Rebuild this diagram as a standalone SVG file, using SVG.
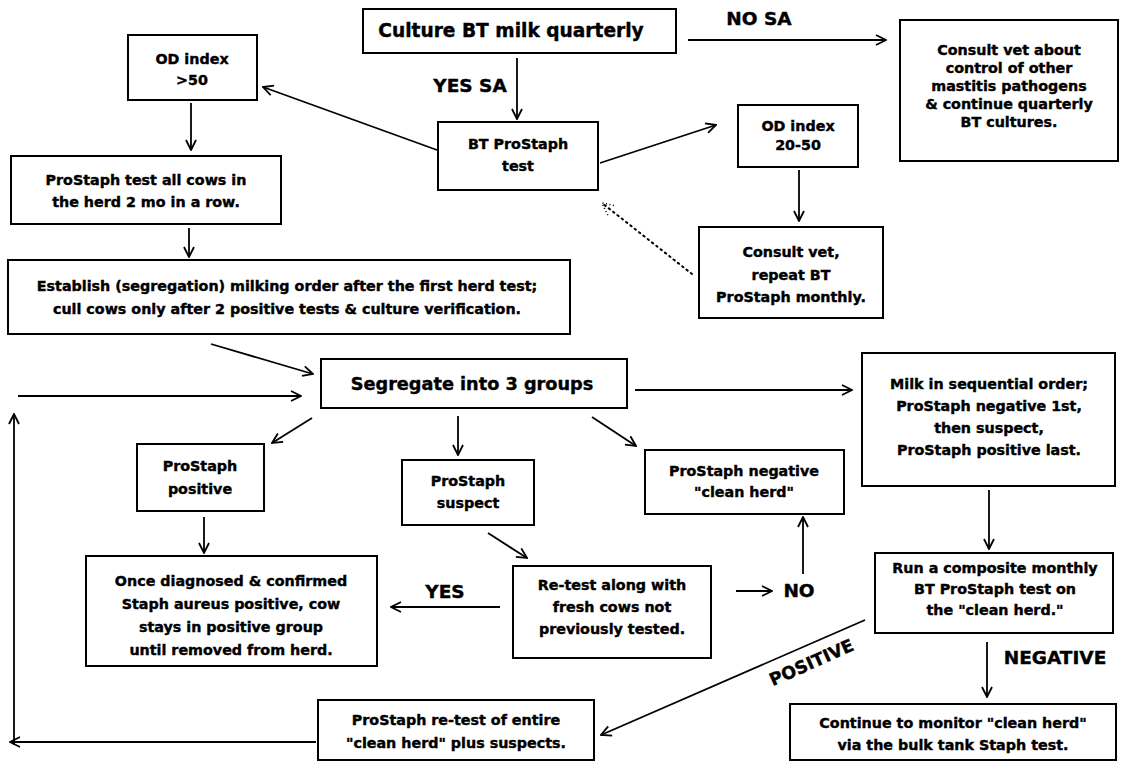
<svg xmlns="http://www.w3.org/2000/svg" width="1121" height="762" viewBox="0 0 1121 762">
<style>
.box{fill:#fff;stroke:#000;stroke-width:2}
.t{font-family:"DejaVu Sans","Liberation Sans",sans-serif;font-weight:bold;font-size:14.3px;fill:#000;stroke:#000;stroke-width:0.4;text-anchor:middle}
.lbl{font-family:"DejaVu Sans","Liberation Sans",sans-serif;font-weight:bold;font-size:18.5px;fill:#000;stroke:#000;stroke-width:0.4;text-anchor:middle}
.c{fill:none;stroke:#000;stroke-width:1.8;marker-end:url(#ah)}
.d{fill:none;stroke:#000;stroke-width:2;stroke-dasharray:1.5 4;stroke-linecap:round}
</style>
<defs>
<marker id="ah" viewBox="0 0 12 12" refX="11" refY="6" markerWidth="12" markerHeight="12" markerUnits="userSpaceOnUse" orient="auto">
<path d="M1,1 L11,6 L1,11" fill="none" stroke="#000" stroke-width="1.8"/>
</marker>
<marker id="dh" viewBox="0 0 14 14" refX="13" refY="7" markerWidth="14" markerHeight="14" markerUnits="userSpaceOnUse" orient="auto">
<path d="M1,1 L13,7 L1,13" fill="none" stroke="#000" stroke-width="1.6" stroke-dasharray="1 2.5"/>
</marker>
</defs>
<rect width="1121" height="762" fill="#fff"/>

<g id="connectors">
<line class="c" x1="688" y1="40" x2="886" y2="40"/>
<line class="c" x1="517" y1="58" x2="517" y2="119"/>
<line class="c" x1="437" y1="150" x2="263" y2="87"/>
<line class="c" x1="600" y1="163" x2="716" y2="125"/>
<line class="c" x1="191" y1="103" x2="191" y2="150"/>
<line class="c" x1="799" y1="170" x2="799" y2="221"/>
<line class="c" x1="189" y1="228" x2="189" y2="257"/>
<line class="d" x1="692" y1="274" x2="602" y2="203" marker-end="url(#dh)"/>
<line class="c" x1="211" y1="344" x2="313" y2="374"/>
<line class="c" x1="18" y1="396" x2="301" y2="396"/>
<line class="c" x1="14" y1="745" x2="14" y2="414"/>
<line class="c" x1="635" y1="390" x2="852" y2="390"/>
<line class="c" x1="312" y1="418" x2="272" y2="443"/>
<line class="c" x1="458" y1="416" x2="458" y2="455"/>
<line class="c" x1="592" y1="417" x2="636" y2="446"/>
<line class="c" x1="989" y1="490" x2="989" y2="549"/>
<line class="c" x1="204" y1="517" x2="204" y2="553"/>
<line class="c" x1="488" y1="533" x2="527" y2="558"/>
<line class="c" x1="500" y1="607" x2="391" y2="607"/>
<line class="c" x1="736" y1="591" x2="772" y2="591"/>
<line class="c" x1="803" y1="574" x2="803" y2="517"/>
<line class="c" x1="865" y1="620" x2="601" y2="735"/>
<line class="c" x1="987" y1="642" x2="987" y2="697"/>
<line class="c" x1="316" y1="742" x2="10" y2="742"/>
<text class="lbl" x="470" y="92">YES SA</text>
<text class="lbl" x="759" y="25">NO SA</text>
<text class="lbl" x="445" y="598">YES</text>
<text class="lbl" x="799" y="597">NO</text>
<text class="lbl" x="1055" y="664">NEGATIVE</text>
<text class="lbl" style="font-size:17.4px" x="0" y="0" transform="translate(814,668) rotate(-24)">POSITIVE</text>
</g>

<g id="culture"><rect class="box" x="363" y="9" width="313" height="44"/><text class="t" style="font-size:18.6px" x="511" y="37">Culture BT milk quarterly</text></g>

<g id="consult-other"><rect class="box" x="900" y="20" width="218" height="141"/>
<text class="t" x="1009" y="55">Consult vet about</text>
<text class="t" x="1009" y="73">control of other</text>
<text class="t" x="1009" y="91">mastitis pathogens</text>
<text class="t" x="1009" y="109">&amp; continue quarterly</text>
<text class="t" x="1009" y="127">BT cultures.</text></g>

<g id="od-high"><rect class="box" x="128" y="35" width="129" height="65"/>
<text class="t" x="192" y="64">OD index</text><text class="t" x="192" y="85">&gt;50</text></g>

<g id="bt-prostaph"><rect class="box" x="438" y="122" width="160" height="68"/>
<text class="t" x="518" y="149">BT ProStaph</text><text class="t" x="518" y="171">test</text></g>

<g id="od-mid"><rect class="box" x="738" y="105" width="120" height="62"/>
<text class="t" x="798" y="131">OD index</text><text class="t" x="798" y="150">20-50</text></g>

<g id="test-all"><rect class="box" x="11" y="156" width="270" height="68"/>
<text class="t" x="146" y="185">ProStaph test all cows in</text><text class="t" x="146" y="207">the herd 2 mo in a row.</text></g>

<g id="consult-monthly"><rect class="box" x="699" y="227" width="184" height="91"/>
<text class="t" x="791" y="257">Consult vet,</text><text class="t" x="791" y="280">repeat BT</text><text class="t" x="791" y="302">ProStaph monthly.</text></g>

<g id="establish"><rect class="box" x="8" y="260" width="562" height="74"/>
<text class="t" x="287" y="291">Establish (segregation) milking order after the first herd test;</text>
<text class="t" x="287" y="314">cull cows only after 2 positive tests &amp; culture verification.</text></g>

<g id="segregate"><rect class="box" x="321" y="359" width="306" height="49"/>
<text class="t" x="472" y="390" style="font-size:17.7px">Segregate into 3 groups</text></g>

<g id="milk-order"><rect class="box" x="862" y="353" width="253" height="133"/>
<text class="t" x="989" y="389">Milk in sequential order;</text>
<text class="t" x="989" y="411">ProStaph negative 1st,</text>
<text class="t" x="989" y="433">then suspect,</text>
<text class="t" x="989" y="455">ProStaph positive last.</text></g>

<g id="positive"><rect class="box" x="137" y="444" width="127" height="67"/>
<text class="t" x="200" y="471">ProStaph</text><text class="t" x="200" y="494">positive</text></g>

<g id="suspect"><rect class="box" x="402" y="460" width="132" height="65"/>
<text class="t" x="468" y="486">ProStaph</text><text class="t" x="468" y="508">suspect</text></g>

<g id="negative"><rect class="box" x="645" y="450" width="199" height="64"/>
<text class="t" x="744" y="476">ProStaph negative</text><text class="t" x="744" y="497">"clean herd"</text></g>

<g id="once"><rect class="box" x="86" y="556" width="291" height="110"/>
<text class="t" x="231" y="586">Once diagnosed &amp; confirmed</text>
<text class="t" x="231" y="609">Staph aureus positive, cow</text>
<text class="t" x="231" y="632">stays in positive group</text>
<text class="t" x="231" y="655">until removed from herd.</text></g>

<g id="retest"><rect class="box" x="513" y="566" width="198" height="92"/>
<text class="t" x="612" y="590">Re-test along with</text>
<text class="t" x="612" y="612">fresh cows not</text>
<text class="t" x="612" y="634">previously tested.</text></g>

<g id="run"><rect class="box" x="875" y="553" width="238" height="80"/>
<text class="t" x="995" y="573">Run a composite monthly</text>
<text class="t" x="995" y="594">BT ProStaph test on</text>
<text class="t" x="995" y="615">the "clean herd."</text></g>

<g id="retest-entire"><rect class="box" x="318" y="700" width="276" height="60"/>
<text class="t" x="456" y="725">ProStaph re-test of entire</text>
<text class="t" x="456" y="748">"clean herd" plus suspects.</text></g>

<g id="continue"><rect class="box" x="790" y="704" width="326" height="56"/>
<text class="t" x="953" y="728">Continue to monitor "clean herd"</text>
<text class="t" x="953" y="750">via the bulk tank Staph test.</text></g>
</svg>
